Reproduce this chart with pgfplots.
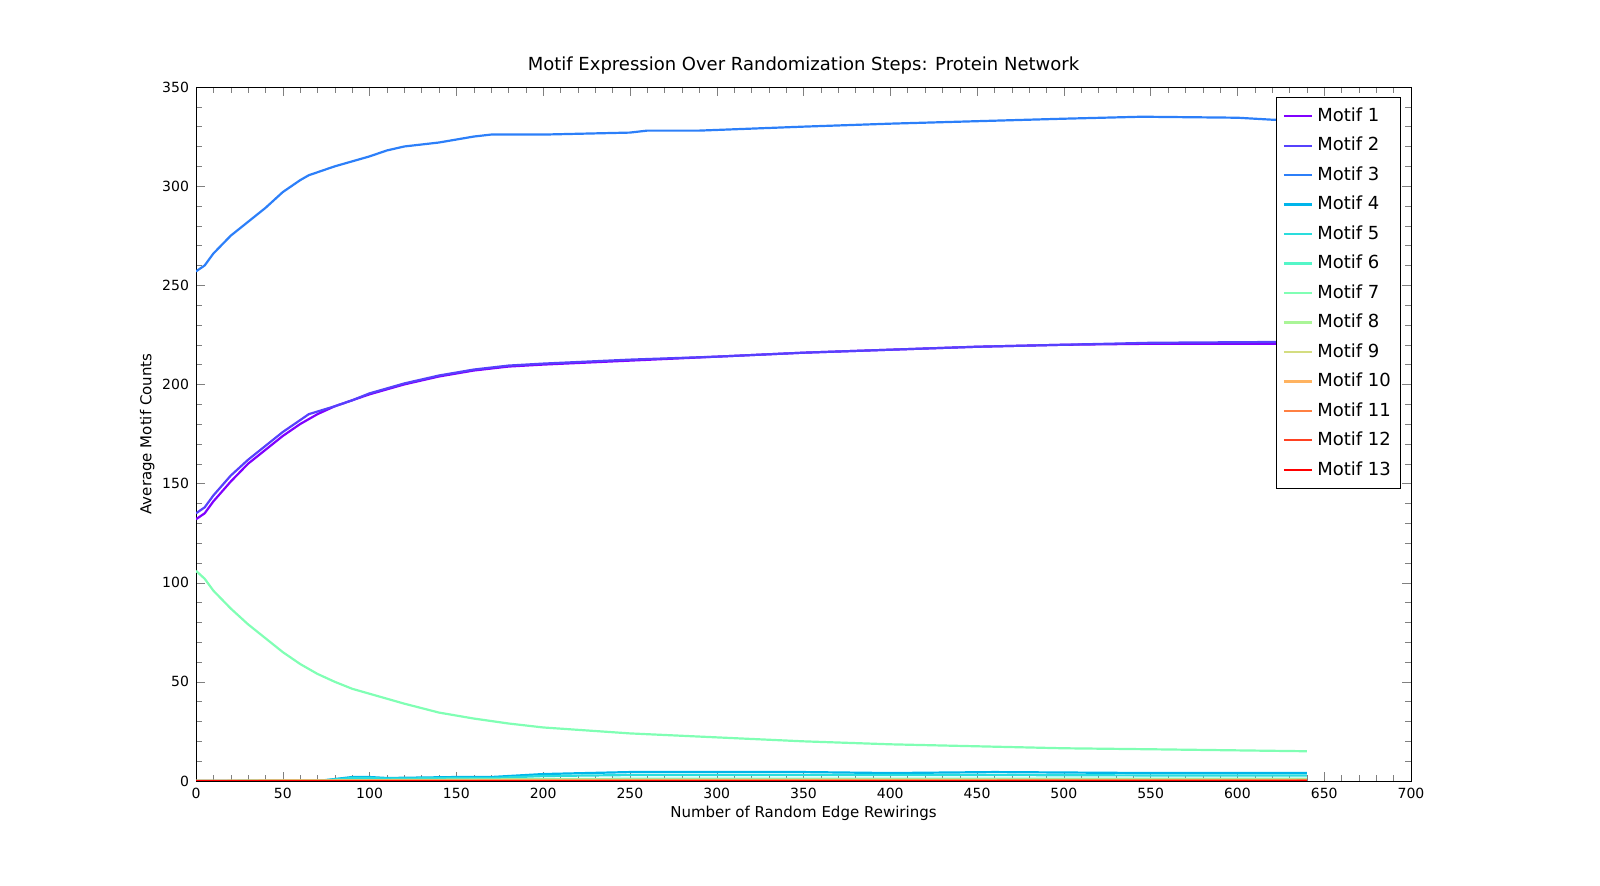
\documentclass[border=0pt]{standalone}
\usepackage{pgfplots}
\pgfplotsset{compat=1.18}
\usepackage{fontspec}
\setmainfont{DejaVu Sans}
\definecolor{c1}{HTML}{8000FF}
\definecolor{c2}{HTML}{5641FD}
\definecolor{c3}{HTML}{2C7FF9}
\definecolor{c4}{HTML}{00B5EB}
\definecolor{c5}{HTML}{2ADDDD}
\definecolor{c6}{HTML}{54F6C8}
\definecolor{c7}{HTML}{80FFB4}
\definecolor{c8}{HTML}{AAF597}
\definecolor{c9}{HTML}{D4DD80}
\definecolor{c10}{HTML}{FFB360}
\definecolor{c11}{HTML}{FF8042}
\definecolor{c12}{HTML}{FF4121}
\definecolor{c13}{HTML}{FF0000}
\begin{document}
\begin{tikzpicture}
\begin{axis}[at={(0,0)},anchor=south west,scale only axis,width=607.5pt,height=347pt,
xmin=0,xmax=700,ymin=0,ymax=350,xtick distance=50,ytick distance=50,
minor x tick num=4,minor y tick num=4,tick align=inside,
tick label style={font=\fontsize{7}{8}\selectfont},
/pgf/number format/assume math mode=true,
title={Motif Expression Over Randomization Steps: Protein Network},
title style={font=\fontsize{9}{10}\selectfont,yshift=-3pt},
xlabel={Number of Random Edge Rewirings},ylabel={Average Motif Counts},
label style={font=\fontsize{7.5}{9}\selectfont},
xlabel style={yshift=3pt},ylabel style={yshift=-3pt},
legend style={font=\fontsize{9}{11}\selectfont,at={(0.992,0.985)},anchor=north east,row sep=2.4pt,inner sep=3pt,draw=black,
  legend image code/.code={\draw[#1,line width=1.1pt] (0cm,0cm) -- (0.5cm,0cm);}},
legend cell align=left,
every axis plot/.append style={line width=1.1pt}]
\addplot[c1] coordinates {(0,132)(5,135)(10,141)(20,151)(30,160)(40,167)(50,174)(60,180)(70,185)(80,189)(90,192)(100,195)(120,200)(140,204)(160,207)(180,209)(200,210)(250,212)(300,214)(350,216)(400,217.5)(450,219)(500,220)(550,220.5)(640,220.5)};
\addplot[c2] coordinates {(0,135)(5,138)(10,144)(20,154)(30,162)(40,169)(50,176)(60,182)(65,185)(80,189)(90,192)(100,195.5)(120,200.5)(140,204.5)(160,207.5)(180,209.5)(200,210.5)(250,212.5)(300,214)(350,216)(400,217.5)(450,219)(500,220)(550,221)(640,221.5)};
\addplot[c3] coordinates {(0,257)(5,260)(10,266)(20,275)(30,282)(40,289)(50,297)(60,303)(65,305.5)(80,310)(90,312.5)(100,315)(110,318)(120,320)(140,322)(160,325)(170,326)(200,326)(250,327)(260,328)(290,328)(350,330)(400,331.5)(460,333)(500,334)(545,335)(600,334.5)(620,333.5)(640,333)};
\addplot[c4] coordinates {(0,0)(70,0)(80,1)(90,2)(100,2)(110,1.5)(150,2)(170,2)(200,3.5)(250,4.5)(300,4.5)(350,4.5)(400,4)(460,4.5)(550,4)(600,4)(640,4)};
\addplot[c5] coordinates {(0,0)(70,0)(80,0.8)(90,1.5)(100,1.5)(110,1.2)(150,1.5)(170,1.5)(200,2.5)(250,3)(300,3)(350,3)(400,3)(460,3)(550,2.8)(640,2.8)};
\addplot[c6] coordinates {(0,0)(100,0.3)(200,1)(300,1.2)(400,1.2)(500,1.2)(640,1.2)};
\addplot[c7] coordinates {(0,106)(5,102)(10,96)(20,87)(30,79)(40,72)(50,65)(60,59)(70,54)(80,50)(90,46.5)(100,44)(120,39)(140,34.5)(160,31.5)(180,29)(200,27)(250,24)(300,22)(350,20)(400,18.5)(450,17.5)(500,16.5)(550,16)(640,15)};
\addplot[c8] coordinates {(0,0)(200,0.5)(400,0.6)(640,0.6)};
\addplot[c9] coordinates {(0,0)(200,0.8)(400,0.8)(640,0.8)};
\addplot[c10] coordinates {(0,0)(200,0.4)(400,0.4)(640,0.4)};
\addplot[c11] coordinates {(0,0)(640,0.2)};
\addplot[c12] coordinates {(0,0)(640,0.1)};
\addplot[c13] coordinates {(0,0)(640,0)};
\legend{Motif 1,Motif 2,Motif 3,Motif 4,Motif 5,Motif 6,Motif 7,Motif 8,Motif 9,Motif 10,Motif 11,Motif 12,Motif 13}
\end{axis}
\pgfresetboundingbox
\useasboundingbox (-98pt,-52.5pt) rectangle (702pt,390.5pt);
\end{tikzpicture}
\end{document}
